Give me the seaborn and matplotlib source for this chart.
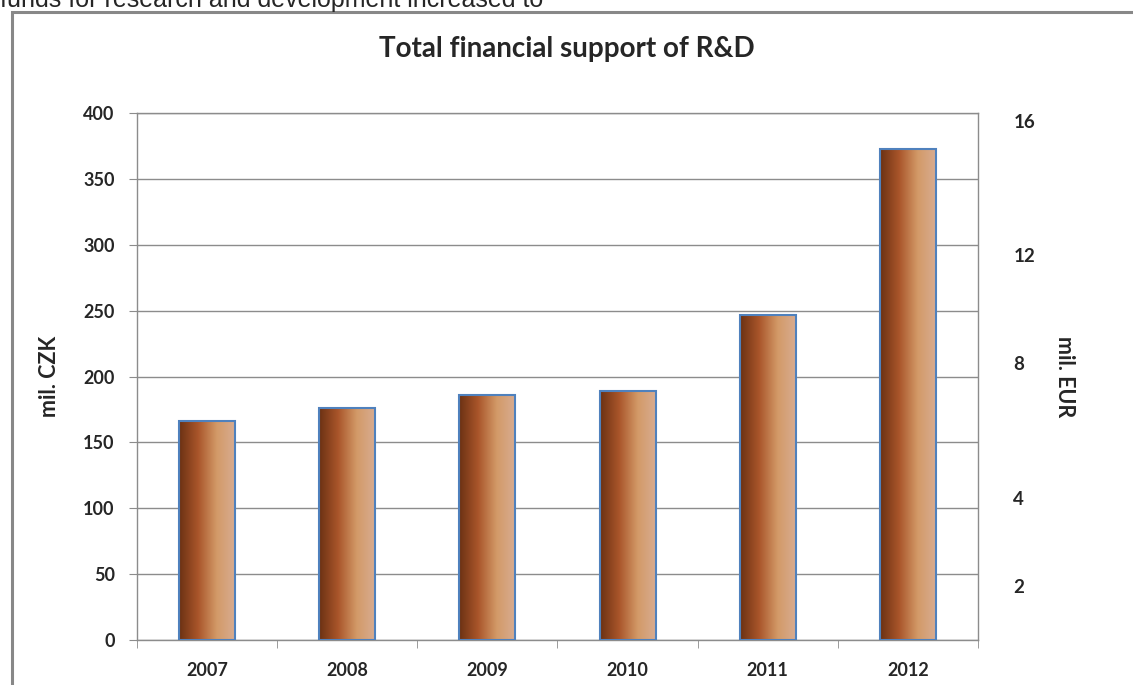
import matplotlib
matplotlib.use('Agg')
import matplotlib.pyplot as plt
import seaborn as sns
import pandas as pd
import numpy as np
from matplotlib.colors import LinearSegmentedColormap
from matplotlib.patches import Rectangle

years = ['2007', '2008', '2009', '2010', '2011', '2012']
czk = [166, 176, 186, 189, 247, 373]

# the EUR labels on the right sit at these CZK heights in the original
eur_pos = [394, 292, 210, 108, 41]
eur_labels = ['16', '12', '8', '4', '2']

df = pd.DataFrame({'year': years, 'czk': czk})

sns.set_style('white')
plt.rcParams['font.family'] = ['Lato', 'DejaVu Sans']

fig = plt.figure(figsize=(11.33, 6.85), dpi=100)
ax = fig.add_axes([0.1209, 0.0657, 0.7423, 0.7693])

sns.barplot(x='year', y='czk', data=df, color='#b86b3a', width=0.4, ax=ax,
            edgecolor='#4f81bd', linewidth=1.5, zorder=3)

# gradient fill inside each bar
cmap = LinearSegmentedColormap.from_list(
    'copper_grad', ['#6b3113', '#a9552a', '#d39a68', '#d8ad93'])
grad = np.linspace(0, 1, 256).reshape(1, -1)
for bar in ax.patches:
    x0, w, h = bar.get_x(), bar.get_width(), bar.get_height()
    im = ax.imshow(grad, cmap=cmap, aspect='auto', extent=[x0, x0 + w, 0, h],
                   zorder=3.5)
    im.set_clip_path(bar)
    bar.set_facecolor('none')
    bar.set_zorder(4)

ax.set_xlim(-0.5, 5.5)
ax.set_ylim(0, 400)
ax.set_yticks(range(0, 401, 50))
ax.yaxis.grid(True, color='#8c8c8c', linewidth=1)
ax.set_axisbelow(True)
for s in ax.spines.values():
    s.set_color('#8c8c8c')
    s.set_linewidth(1)

ax.set_xlabel('')
ax.set_ylabel('mil. CZK', fontsize=15.5, fontweight='bold', labelpad=17)
ax.tick_params(axis='y', which='both', left=True, length=6, color='#8c8c8c',
               labelsize=13, pad=10)
ax.set_xticks(np.arange(-0.5, 6, 1), minor=True)
ax.tick_params(axis='x', which='major', bottom=False, labelsize=13, pad=12)
ax.tick_params(axis='x', which='minor', bottom=True, length=6, color='#8c8c8c')
for lab in ax.get_xticklabels() + ax.get_yticklabels():
    lab.set_fontweight('bold')

ax2 = ax.twinx()
ax2.set_ylim(0, 400)
ax2.set_yticks(eur_pos)
ax2.set_yticklabels(eur_labels, fontsize=13.5, fontweight='bold')
ax2.tick_params(axis='y', right=False, pad=22)
ax2.set_ylabel('mil. EUR', fontsize=15.5, fontweight='bold', rotation=-90,
               labelpad=29)
for s in ax2.spines.values():
    s.set_visible(False)

fig.text(0.5, 1 - 49 / 685, 'Total financial support of R&D', ha='center',
         va='center', fontsize=20, fontweight='bold')

# chart frame and the clipped line of text above it
fig.add_artist(Rectangle((12 / 1133, -0.1), 1.2, (685 - 12) / 685 + 0.1,
                         transform=fig.transFigure, fill=False,
                         edgecolor='#888888', linewidth=2.2))
fig.text(0.0, 1 - 7 / 685, 'funds for research and development increased to',
         ha='left', va='baseline', fontsize=18, family='Liberation Sans')

fig.savefig('out.png', dpi=100)
